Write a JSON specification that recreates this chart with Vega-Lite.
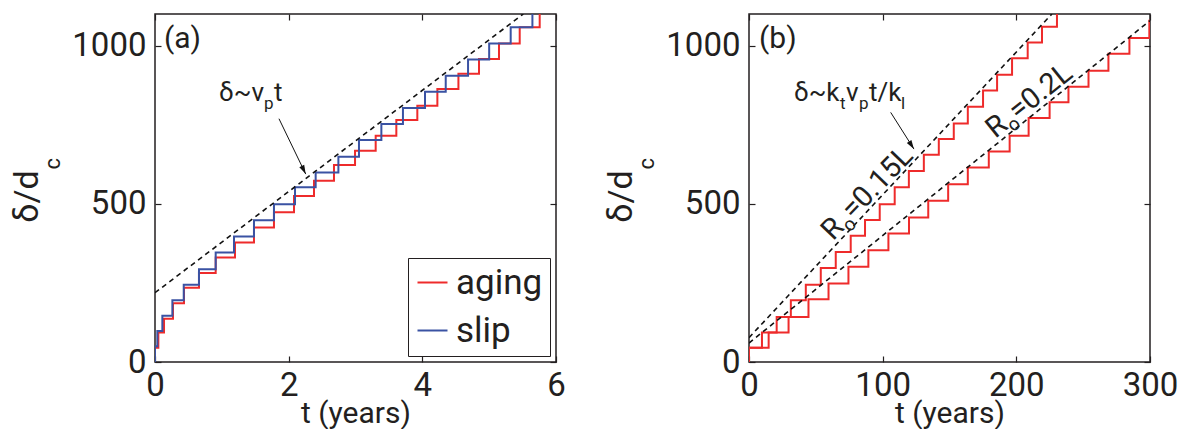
{
  "$schema": "https://vega.github.io/schema/vega-lite/v6.json",
  "background": "white",
  "padding": {"left": 10, "top": 12, "right": 0, "bottom": 0},
  "spacing": 37,
  "datasets": {
    "a_steps": [
      {"model": "aging", "t": 0, "d": 0}, {"model": "aging", "t": 0, "d": 45}, {"model": "aging", "t": 0.05, "d": 93},
      {"model": "aging", "t": 0.135, "d": 137}, {"model": "aging", "t": 0.269, "d": 186}, {"model": "aging", "t": 0.434, "d": 235},
      {"model": "aging", "t": 0.658, "d": 281}, {"model": "aging", "t": 0.908, "d": 330}, {"model": "aging", "t": 1.197, "d": 378},
      {"model": "aging", "t": 1.481, "d": 425}, {"model": "aging", "t": 1.78, "d": 473}, {"model": "aging", "t": 2.08, "d": 525},
      {"model": "aging", "t": 2.379, "d": 573}, {"model": "aging", "t": 2.678, "d": 623}, {"model": "aging", "t": 2.993, "d": 668},
      {"model": "aging", "t": 3.302, "d": 715}, {"model": "aging", "t": 3.611, "d": 765}, {"model": "aging", "t": 3.925, "d": 810},
      {"model": "aging", "t": 4.225, "d": 863}, {"model": "aging", "t": 4.54, "d": 911}, {"model": "aging", "t": 4.848, "d": 958},
      {"model": "aging", "t": 5.147, "d": 1007}, {"model": "aging", "t": 5.457, "d": 1058}, {"model": "aging", "t": 5.756, "d": 1108},
      {"model": "aging", "t": 6, "d": 1108},
      {"model": "slip", "t": 0, "d": 0}, {"model": "slip", "t": 0, "d": 50}, {"model": "slip", "t": 0.035, "d": 98},
      {"model": "slip", "t": 0.11, "d": 146}, {"model": "slip", "t": 0.26, "d": 195}, {"model": "slip", "t": 0.43, "d": 244},
      {"model": "slip", "t": 0.658, "d": 293}, {"model": "slip", "t": 0.908, "d": 346}, {"model": "slip", "t": 1.182, "d": 397},
      {"model": "slip", "t": 1.481, "d": 448}, {"model": "slip", "t": 1.78, "d": 499}, {"model": "slip", "t": 2.095, "d": 552},
      {"model": "slip", "t": 2.404, "d": 599}, {"model": "slip", "t": 2.744, "d": 649}, {"model": "slip", "t": 3.052, "d": 702},
      {"model": "slip", "t": 3.387, "d": 752}, {"model": "slip", "t": 3.71, "d": 803}, {"model": "slip", "t": 4.04, "d": 854},
      {"model": "slip", "t": 4.35, "d": 905}, {"model": "slip", "t": 4.684, "d": 956}, {"model": "slip", "t": 5.0, "d": 1007},
      {"model": "slip", "t": 5.322, "d": 1058}, {"model": "slip", "t": 5.647, "d": 1108}, {"model": "slip", "t": 6, "d": 1108}
    ],
    "a_fit": [{"t": 0, "d": 219}, {"t": 5.51, "d": 1100}],
    "a_note": [{"t": 0.958, "d": 826}],
    "a_arrow": [{"t": 1.855, "d": 769, "t2": 2.255, "d2": 594}],
    "a_panel": [{"t": 0.135, "d": 994}],
    "a_sub": [{"t": -1.42, "d": 627}],
    "b_steps": [
      {"R0": "0.15L", "t": 0, "d": 0}, {"R0": "0.15L", "t": 0, "d": 45}, {"R0": "0.15L", "t": 9.7, "d": 93},
      {"R0": "0.15L", "t": 20.7, "d": 142}, {"R0": "0.15L", "t": 31.3, "d": 195}, {"R0": "0.15L", "t": 42.5, "d": 244},
      {"R0": "0.15L", "t": 53.7, "d": 297}, {"R0": "0.15L", "t": 64.9, "d": 348}, {"R0": "0.15L", "t": 76.1, "d": 399},
      {"R0": "0.15L", "t": 86.8, "d": 449}, {"R0": "0.15L", "t": 97.8, "d": 499}, {"R0": "0.15L", "t": 109, "d": 552},
      {"R0": "0.15L", "t": 119.6, "d": 604}, {"R0": "0.15L", "t": 130.8, "d": 655}, {"R0": "0.15L", "t": 142, "d": 705},
      {"R0": "0.15L", "t": 153.2, "d": 754}, {"R0": "0.15L", "t": 163.7, "d": 807}, {"R0": "0.15L", "t": 175.1, "d": 858},
      {"R0": "0.15L", "t": 185.6, "d": 908}, {"R0": "0.15L", "t": 196.8, "d": 960}, {"R0": "0.15L", "t": 208.5, "d": 1010},
      {"R0": "0.15L", "t": 219.2, "d": 1060}, {"R0": "0.15L", "t": 230.4, "d": 1110}, {"R0": "0.15L", "t": 300, "d": 1110},
      {"R0": "0.2L", "t": 0, "d": 0}, {"R0": "0.2L", "t": 0, "d": 45}, {"R0": "0.2L", "t": 14.7, "d": 93},
      {"R0": "0.2L", "t": 29.6, "d": 142}, {"R0": "0.2L", "t": 44.5, "d": 198}, {"R0": "0.2L", "t": 59.5, "d": 248},
      {"R0": "0.2L", "t": 74.4, "d": 301}, {"R0": "0.2L", "t": 89.3, "d": 353}, {"R0": "0.2L", "t": 104.3, "d": 406},
      {"R0": "0.2L", "t": 119.7, "d": 457}, {"R0": "0.2L", "t": 134.1, "d": 510}, {"R0": "0.2L", "t": 149, "d": 562},
      {"R0": "0.2L", "t": 163.7, "d": 615}, {"R0": "0.2L", "t": 179.4, "d": 665}, {"R0": "0.2L", "t": 195, "d": 715},
      {"R0": "0.2L", "t": 209.2, "d": 771}, {"R0": "0.2L", "t": 224.9, "d": 821}, {"R0": "0.2L", "t": 239, "d": 870},
      {"R0": "0.2L", "t": 254, "d": 921}, {"R0": "0.2L", "t": 268.9, "d": 974}, {"R0": "0.2L", "t": 284.6, "d": 1024},
      {"R0": "0.2L", "t": 299.5, "d": 1079}, {"R0": "0.2L", "t": 300, "d": 1079}
    ],
    "b_fit": [
      {"R0": "0.15L", "t": 0, "d": 77}, {"R0": "0.15L", "t": 226.6, "d": 1100},
      {"R0": "0.2L", "t": 0, "d": 60}, {"R0": "0.2L", "t": 300, "d": 1079}
    ],
    "b_note": [{"t": 33.6, "d": 826}],
    "b_arrow": [{"t": 106, "d": 789, "t2": 123.4, "d2": 673}],
    "b_panel": [{"t": 7.5, "d": 994}],
    "b_sub": [{"t": -70.9, "d": 627}],
    "b_r15": [{"t": 62.9, "d": 381}],
    "b_r20": [{"t": 184.3, "d": 705}]
  },
  "hconcat": [
    {
      "width": 401,
      "height": 348,
      "resolve": {"axis": {"x": "independent", "y": "independent"}},
      "layer": [
        {
          "data": {"name": "a_steps"},
          "mark": {"type": "line", "interpolate": "step-after", "strokeWidth": 2, "clip": true},
          "encoding": {
            "x": {"field": "t", "type": "quantitative", "scale": {"domain": [0, 6], "nice": false},
                  "axis": {"values": [0, 2, 4, 6], "format": "d", "title": "t (years)"}},
            "y": {"field": "d", "type": "quantitative", "scale": {"domain": [0, 1100], "nice": false},
                  "axis": {"values": [0, 500, 1000], "format": "d", "title": "δ/d", "titleY": 182}},
            "color": {"field": "model", "type": "nominal",
                      "scale": {"domain": ["aging", "slip"], "range": ["#ee2b2b", "#3a52a3"]},
                      "legend": {"title": null, "orient": "bottom-right", "offset": 6, "padding": 7,
                                 "strokeColor": "#231f20", "fillColor": "white", "labelFontSize": 35,
                                 "labelFont": "Roboto", "labelColor": "#231f20", "symbolType": "stroke",
                                 "symbolSize": 900, "symbolStrokeWidth": 2, "rowPadding": 12, "labelOffset": 6}}
          }
        },
        {
          "data": {"name": "a_fit"},
          "mark": {"type": "line", "color": "#111", "strokeWidth": 1.6, "strokeDash": [5, 4], "clip": true},
          "encoding": {
            "x": {"field": "t", "type": "quantitative", "scale": {"domain": [0, 6], "nice": false},
                  "axis": {"orient": "top", "values": [0, 2, 4, 6], "labels": false, "title": null}},
            "y": {"field": "d", "type": "quantitative", "scale": {"domain": [0, 1100], "nice": false},
                  "axis": {"orient": "right", "values": [0, 500, 1000], "labels": false, "title": null}}
          }
        },
        {
          "data": {"name": "a_arrow"},
          "mark": {"type": "rule", "color": "#111", "strokeWidth": 1},
          "encoding": {
            "x": {"field": "t", "type": "quantitative", "axis": null},
            "y": {"field": "d", "type": "quantitative", "axis": null},
            "x2": {"field": "t2"},
            "y2": {"field": "d2"}
          }
        },
        {
          "data": {"name": "a_arrow"},
          "mark": {"type": "point", "shape": "M0,0 L-0.3,-1 L0.3,-1 Z", "filled": true, "color": "#111", "opacity": 1, "size": 324, "angle": 334},
          "encoding": {
            "x": {"field": "t2", "type": "quantitative", "axis": null},
            "y": {"field": "d2", "type": "quantitative", "axis": null}
          }
        },
        {
          "data": {"name": "a_note"},
          "layer": [
            {"mark": {"type": "text", "text": "δ~v", "align": "left", "baseline": "alphabetic", "fontSize": 26, "color": "#231f20"}},
            {"mark": {"type": "text", "text": "p", "align": "left", "baseline": "alphabetic", "fontSize": 17, "dx": 45, "dy": 8, "color": "#231f20"}},
            {"mark": {"type": "text", "text": "t", "align": "left", "baseline": "alphabetic", "fontSize": 26, "dx": 55, "color": "#231f20"}}
          ],
          "encoding": {
            "x": {"field": "t", "type": "quantitative", "axis": null},
            "y": {"field": "d", "type": "quantitative", "axis": null}
          }
        },
        {
          "data": {"name": "a_panel"},
          "mark": {"type": "text", "text": "(a)", "align": "left", "baseline": "alphabetic", "fontSize": 30, "color": "#231f20"},
          "encoding": {
            "x": {"field": "t", "type": "quantitative", "axis": null},
            "y": {"field": "d", "type": "quantitative", "axis": null}
          }
        },
        {
          "data": {"name": "a_sub"},
          "mark": {"type": "text", "text": "c", "align": "center", "baseline": "alphabetic", "fontSize": 22, "angle": 270, "color": "#231f20"},
          "encoding": {
            "x": {"field": "t", "type": "quantitative", "axis": null},
            "y": {"field": "d", "type": "quantitative", "axis": null}
          }
        }
      ]
    },
    {
      "width": 401,
      "height": 348,
      "resolve": {"axis": {"x": "independent", "y": "independent"}},
      "layer": [
        {
          "data": {"name": "b_steps"},
          "mark": {"type": "line", "interpolate": "step-after", "strokeWidth": 2, "color": "#ee2b2b", "clip": true},
          "encoding": {
            "x": {"field": "t", "type": "quantitative", "scale": {"domain": [0, 300], "nice": false},
                  "axis": {"values": [0, 100, 200, 300], "format": "d", "title": "t (years)"}},
            "y": {"field": "d", "type": "quantitative", "scale": {"domain": [0, 1100], "nice": false},
                  "axis": {"values": [0, 500, 1000], "format": "d", "title": "δ/d", "titleY": 182}},
            "detail": {"field": "R0", "type": "nominal"}
          }
        },
        {
          "data": {"name": "b_fit"},
          "mark": {"type": "line", "color": "#111", "strokeWidth": 1.6, "strokeDash": [5, 4], "clip": true},
          "encoding": {
            "x": {"field": "t", "type": "quantitative", "scale": {"domain": [0, 300], "nice": false},
                  "axis": {"orient": "top", "values": [0, 100, 200, 300], "labels": false, "title": null}},
            "y": {"field": "d", "type": "quantitative", "scale": {"domain": [0, 1100], "nice": false},
                  "axis": {"orient": "right", "values": [0, 500, 1000], "labels": false, "title": null}},
            "detail": {"field": "R0", "type": "nominal"}
          }
        },
        {
          "data": {"name": "b_arrow"},
          "mark": {"type": "rule", "color": "#111", "strokeWidth": 1},
          "encoding": {
            "x": {"field": "t", "type": "quantitative", "axis": null},
            "y": {"field": "d", "type": "quantitative", "axis": null},
            "x2": {"field": "t2"},
            "y2": {"field": "d2"}
          }
        },
        {
          "data": {"name": "b_arrow"},
          "mark": {"type": "point", "shape": "M0,0 L-0.3,-1 L0.3,-1 Z", "filled": true, "color": "#111", "opacity": 1, "size": 324, "angle": 327.5},
          "encoding": {
            "x": {"field": "t2", "type": "quantitative", "axis": null},
            "y": {"field": "d2", "type": "quantitative", "axis": null}
          }
        },
        {
          "data": {"name": "b_note"},
          "layer": [
            {"mark": {"type": "text", "text": "δ~k", "align": "left", "baseline": "alphabetic", "fontSize": 26, "color": "#231f20"}},
            {"mark": {"type": "text", "text": "t", "align": "left", "baseline": "alphabetic", "fontSize": 17, "dx": 46, "dy": 8, "color": "#231f20"}},
            {"mark": {"type": "text", "text": "v", "align": "left", "baseline": "alphabetic", "fontSize": 26, "dx": 52, "color": "#231f20"}},
            {"mark": {"type": "text", "text": "p", "align": "left", "baseline": "alphabetic", "fontSize": 17, "dx": 65, "dy": 8, "color": "#231f20"}},
            {"mark": {"type": "text", "text": "t/k", "align": "left", "baseline": "alphabetic", "fontSize": 26, "dx": 75, "color": "#231f20"}},
            {"mark": {"type": "text", "text": "l", "align": "left", "baseline": "alphabetic", "fontSize": 17, "dx": 107, "dy": 8, "color": "#231f20"}}
          ],
          "encoding": {
            "x": {"field": "t", "type": "quantitative", "axis": null},
            "y": {"field": "d", "type": "quantitative", "axis": null}
          }
        },
        {
          "data": {"name": "b_r15"},
          "layer": [
            {"mark": {"type": "text", "text": "R", "align": "left", "baseline": "alphabetic", "fontSize": 29, "angle": 314, "color": "#231f20"}},
            {"mark": {"type": "text", "text": "o", "align": "left", "baseline": "alphabetic", "fontSize": 19, "angle": 314, "dx": 18, "dy": 6, "color": "#231f20"}},
            {"mark": {"type": "text", "text": "=0.15L", "align": "left", "baseline": "alphabetic", "fontSize": 29, "angle": 314, "dx": 29, "color": "#231f20"}}
          ],
          "encoding": {
            "x": {"field": "t", "type": "quantitative", "axis": null},
            "y": {"field": "d", "type": "quantitative", "axis": null}
          }
        },
        {
          "data": {"name": "b_r20"},
          "layer": [
            {"mark": {"type": "text", "text": "R", "align": "left", "baseline": "alphabetic", "fontSize": 29, "angle": 321.5, "color": "#231f20"}},
            {"mark": {"type": "text", "text": "o", "align": "left", "baseline": "alphabetic", "fontSize": 19, "angle": 321.5, "dx": 18, "dy": 6, "color": "#231f20"}},
            {"mark": {"type": "text", "text": "=0.2L", "align": "left", "baseline": "alphabetic", "fontSize": 29, "angle": 321.5, "dx": 29, "color": "#231f20"}}
          ],
          "encoding": {
            "x": {"field": "t", "type": "quantitative", "axis": null},
            "y": {"field": "d", "type": "quantitative", "axis": null}
          }
        },
        {
          "data": {"name": "b_panel"},
          "mark": {"type": "text", "text": "(b)", "align": "left", "baseline": "alphabetic", "fontSize": 30, "color": "#231f20"},
          "encoding": {
            "x": {"field": "t", "type": "quantitative", "axis": null},
            "y": {"field": "d", "type": "quantitative", "axis": null}
          }
        },
        {
          "data": {"name": "b_sub"},
          "mark": {"type": "text", "text": "c", "align": "center", "baseline": "alphabetic", "fontSize": 22, "angle": 270, "color": "#231f20"},
          "encoding": {
            "x": {"field": "t", "type": "quantitative", "axis": null},
            "y": {"field": "d", "type": "quantitative", "axis": null}
          }
        }
      ]
    }
  ],
  "resolve": {"scale": {"color": "independent"}, "legend": {"color": "independent"}},
  "config": {
    "font": "Roboto",
    "view": {"stroke": "#231f20", "strokeWidth": 1.5},
    "axis": {
      "labelFont": "Roboto", "labelFontSize": 33, "labelColor": "#231f20",
      "titleFont": "Roboto", "titleFontWeight": "normal", "titleColor": "#231f20",
      "domain": false, "grid": false, "ticks": true, "tickColor": "#231f20", "tickWidth": 1.2, "tickSize": -6,
      "labelFlush": false, "labelOverlap": false
    },
    "axisX": {"labelPadding": 13, "titlePadding": -4, "titleFontSize": 30},
    "axisY": {"labelPadding": 15, "titlePadding": 27, "titleFontSize": 34}
  }
}
